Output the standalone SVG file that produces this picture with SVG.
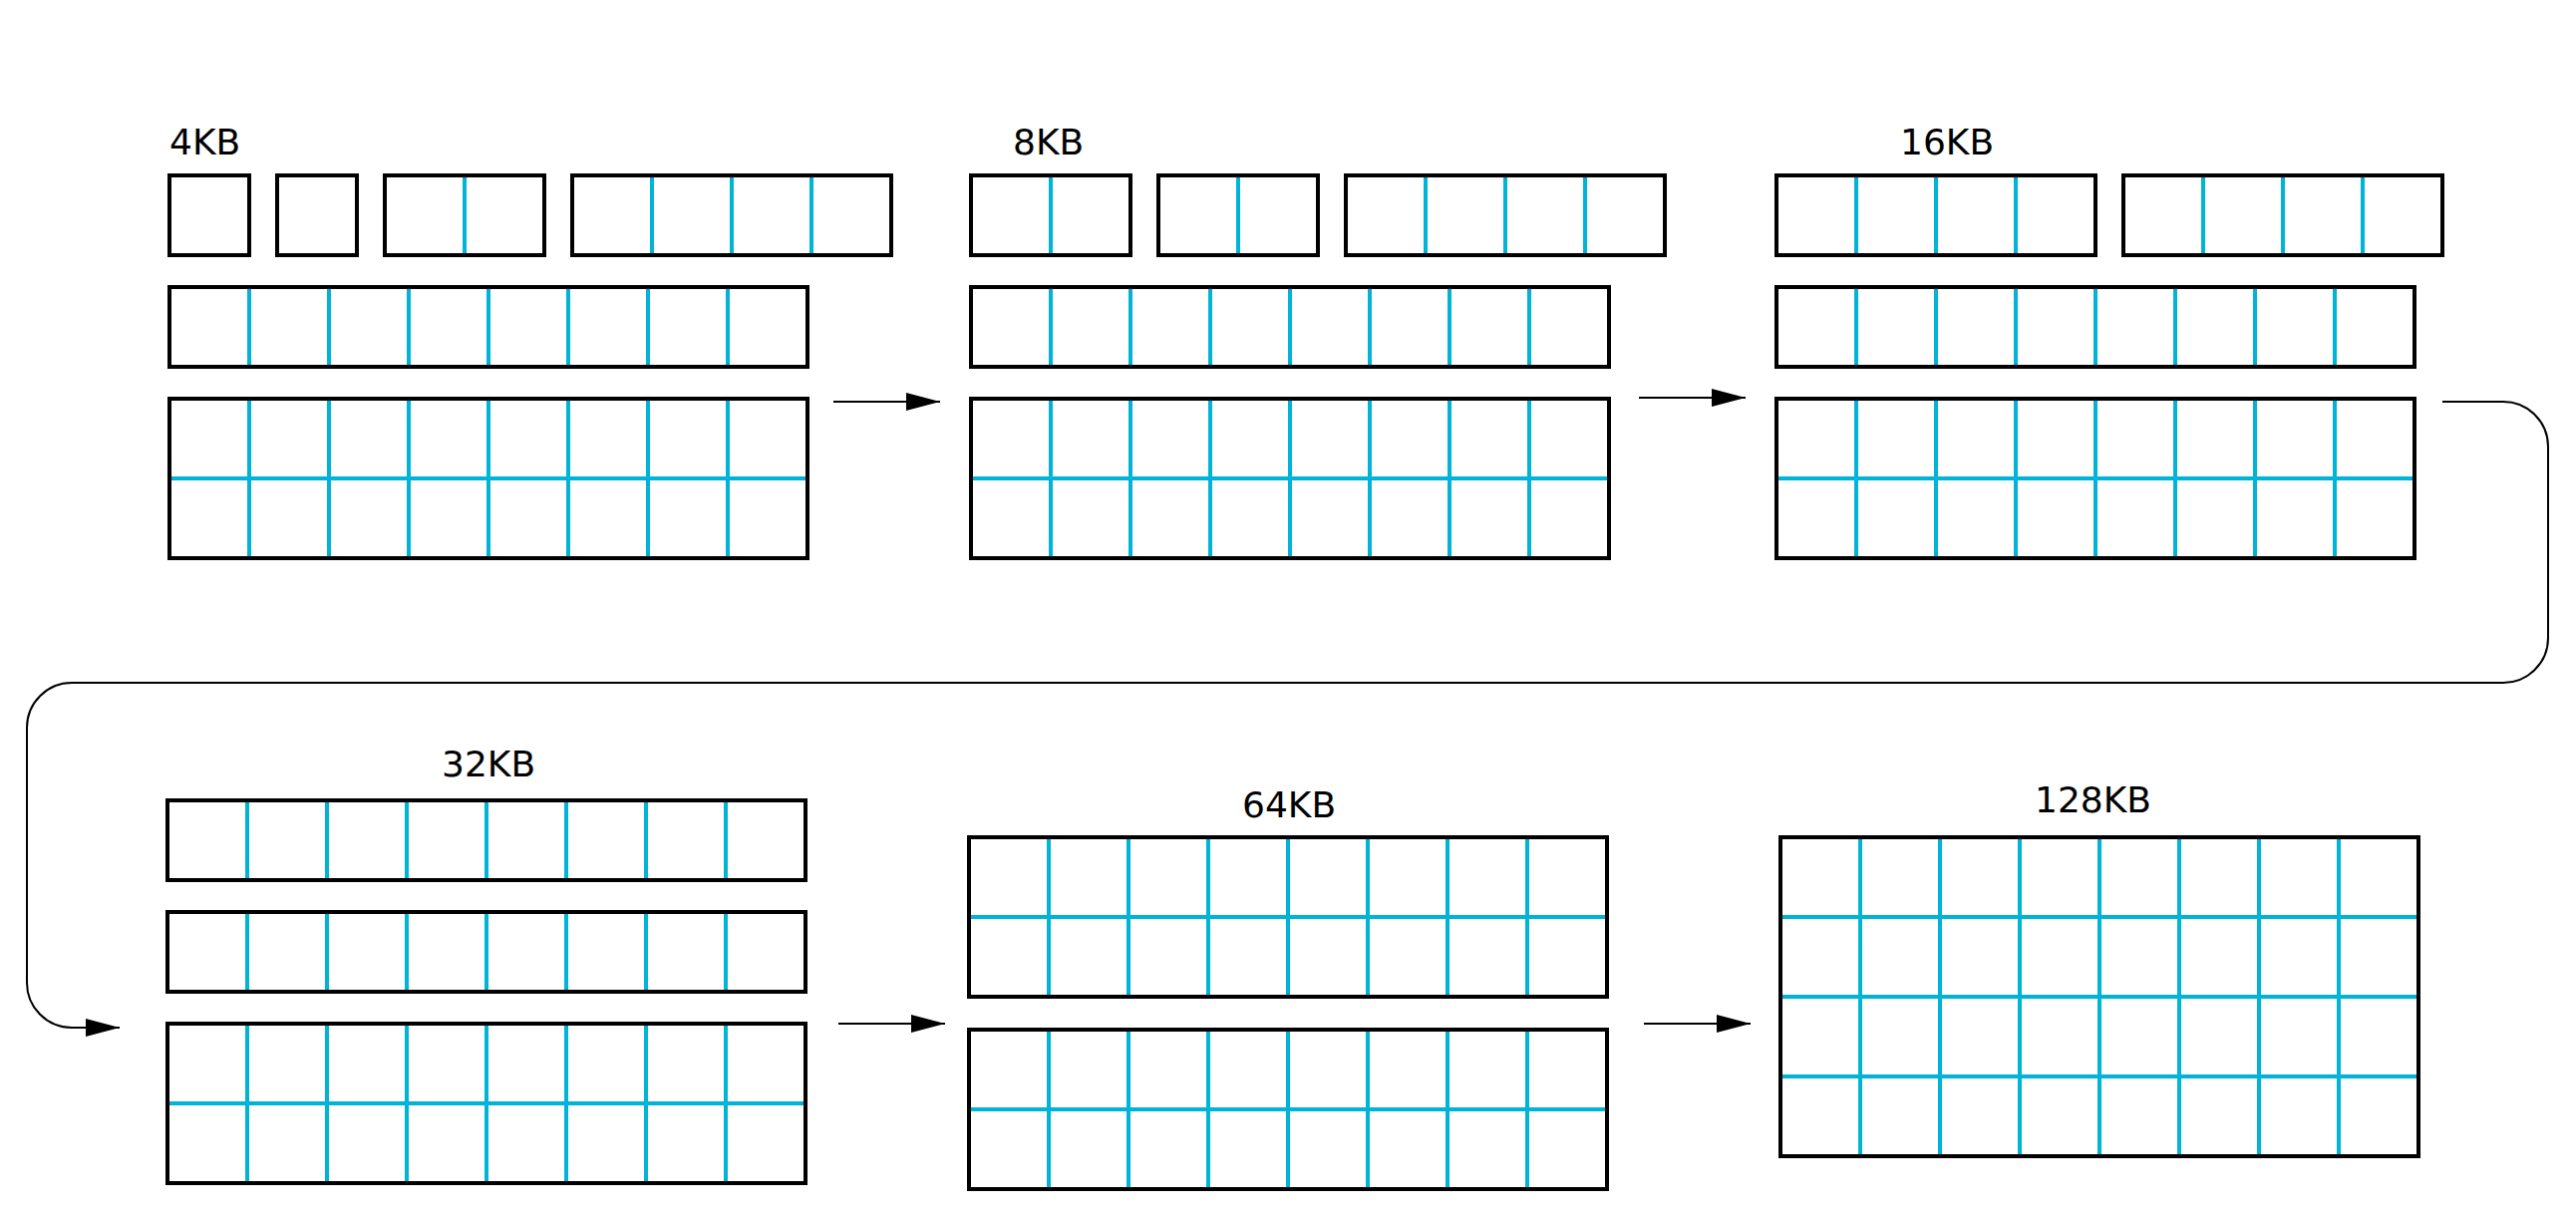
<svg xmlns="http://www.w3.org/2000/svg" width="2584" height="1221" viewBox="0 0 2584 1221">
<style>
.box{fill:none;stroke:#000;stroke-width:4}
.grid{stroke:#00b4d8;stroke-width:4;fill:none}
.lbl{font-family:"DejaVu Sans",sans-serif;font-size:36px;fill:#000}
.conn{fill:none;stroke:#000;stroke-width:2}
</style>
<defs>
<marker id="ah" markerUnits="userSpaceOnUse" markerWidth="34" markerHeight="18" refX="34" refY="9" orient="auto">
<path d="M0,0 L34,9 L0,18 z" fill="#000"/>
</marker>
</defs>
<rect width="2584" height="1221" fill="#fff"/>

<g id="g4kb">
<text class="lbl" x="170" y="155">4KB</text>
<g id="g4kb-b1"><rect class="box" x="170" y="176" width="80" height="80"/></g>
<g id="g4kb-b2"><rect class="box" x="278" y="176" width="80" height="80"/></g>
<g id="g4kb-b3"><path class="grid" d="M466,176V256"/><rect class="box" x="386" y="176" width="160" height="80"/></g>
<g id="g4kb-b4"><path class="grid" d="M654,176V256M734,176V256M814,176V256"/><rect class="box" x="574" y="176" width="320" height="80"/></g>
<g id="g4kb-r2"><path class="grid" d="M250,288V368M330,288V368M410,288V368M490,288V368M570,288V368M650,288V368M730,288V368"/><rect class="box" x="170" y="288" width="640" height="80"/></g>
<g id="g4kb-r3"><path class="grid" d="M250,400V560M330,400V560M410,400V560M490,400V560M570,400V560M650,400V560M730,400V560M170,480H810"/><rect class="box" x="170" y="400" width="640" height="160"/></g>
</g>

<g id="g8kb">
<text class="lbl" x="1016" y="155">8KB</text>
<g id="g8kb-b1"><path class="grid" d="M1054,176V256"/><rect class="box" x="974" y="176" width="160" height="80"/></g>
<g id="g8kb-b2"><path class="grid" d="M1242,176V256"/><rect class="box" x="1162" y="176" width="160" height="80"/></g>
<g id="g8kb-b3"><path class="grid" d="M1430,176V256M1510,176V256M1590,176V256"/><rect class="box" x="1350" y="176" width="320" height="80"/></g>
<g id="g8kb-r2"><path class="grid" d="M1054,288V368M1134,288V368M1214,288V368M1294,288V368M1374,288V368M1454,288V368M1534,288V368"/><rect class="box" x="974" y="288" width="640" height="80"/></g>
<g id="g8kb-r3"><path class="grid" d="M1054,400V560M1134,400V560M1214,400V560M1294,400V560M1374,400V560M1454,400V560M1534,400V560M974,480H1614"/><rect class="box" x="974" y="400" width="640" height="160"/></g>
</g>

<g id="g16kb">
<text class="lbl" x="1906" y="155">16KB</text>
<g id="g16kb-b1"><path class="grid" d="M1862,176V256M1942,176V256M2022,176V256"/><rect class="box" x="1782" y="176" width="320" height="80"/></g>
<g id="g16kb-b2"><path class="grid" d="M2210,176V256M2290,176V256M2370,176V256"/><rect class="box" x="2130" y="176" width="320" height="80"/></g>
<g id="g16kb-r2"><path class="grid" d="M1862,288V368M1942,288V368M2022,288V368M2102,288V368M2182,288V368M2262,288V368M2342,288V368"/><rect class="box" x="1782" y="288" width="640" height="80"/></g>
<g id="g16kb-r3"><path class="grid" d="M1862,400V560M1942,400V560M2022,400V560M2102,400V560M2182,400V560M2262,400V560M2342,400V560M1782,480H2422"/><rect class="box" x="1782" y="400" width="640" height="160"/></g>
</g>

<g id="g32kb">
<text class="lbl" x="443" y="779">32KB</text>
<g id="g32kb-r1"><path class="grid" d="M248,803V883M328,803V883M408,803V883M488,803V883M568,803V883M648,803V883M728,803V883"/><rect class="box" x="168" y="803" width="640" height="80"/></g>
<g id="g32kb-r2"><path class="grid" d="M248,915V995M328,915V995M408,915V995M488,915V995M568,915V995M648,915V995M728,915V995"/><rect class="box" x="168" y="915" width="640" height="80"/></g>
<g id="g32kb-r3"><path class="grid" d="M248,1027V1187M328,1027V1187M408,1027V1187M488,1027V1187M568,1027V1187M648,1027V1187M728,1027V1187M168,1107H808"/><rect class="box" x="168" y="1027" width="640" height="160"/></g>
</g>

<g id="g64kb">
<text class="lbl" x="1246" y="820">64KB</text>
<g id="g64kb-b1"><path class="grid" d="M1052,840V1000M1132,840V1000M1212,840V1000M1292,840V1000M1372,840V1000M1452,840V1000M1532,840V1000M972,920H1612"/><rect class="box" x="972" y="840" width="640" height="160"/></g>
<g id="g64kb-b2"><path class="grid" d="M1052,1033V1193M1132,1033V1193M1212,1033V1193M1292,1033V1193M1372,1033V1193M1452,1033V1193M1532,1033V1193M972,1113H1612"/><rect class="box" x="972" y="1033" width="640" height="160"/></g>
</g>

<g id="g128kb">
<text class="lbl" x="2041" y="815">128KB</text>
<g id="g128kb-b1"><path class="grid" d="M1866,840V1160M1946,840V1160M2026,840V1160M2106,840V1160M2186,840V1160M2266,840V1160M2346,840V1160M1786,920H2426M1786,1000H2426M1786,1080H2426"/><rect class="box" x="1786" y="840" width="640" height="320"/></g>
</g>

<g id="connectors">
<path class="conn" d="M836,403H943" marker-end="url(#ah)"/>
<path class="conn" d="M1644,399H1751" marker-end="url(#ah)"/>
<path class="conn" d="M2450,403H2511A45,45 0 0 1 2556,448V640A45,45 0 0 1 2511,685H72A45,45 0 0 0 27,730V986A45,45 0 0 0 72,1031H120" marker-end="url(#ah)"/>
<path class="conn" d="M841,1027H948" marker-end="url(#ah)"/>
<path class="conn" d="M1649,1027H1756" marker-end="url(#ah)"/>
</g>
</svg>
